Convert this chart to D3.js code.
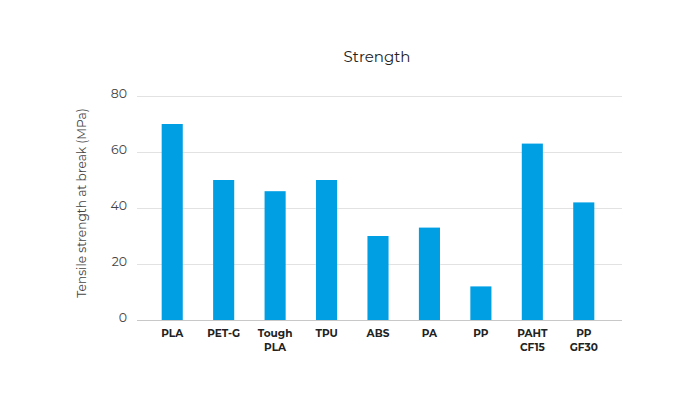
<!DOCTYPE html>
<html>
<head>
<meta charset="utf-8">
<script src="https://cdn.jsdelivr.net/npm/d3@7"></script>
<style>
  body { margin: 0; background: #fff; }
  svg { font-family: "Montserrat", "Inter", "Noto Sans", sans-serif; }
</style>
</head>
<body>
<svg id="chart" width="700" height="400"></svg>
<script>
// materials and tensile strength (MPa)
var materials = [["PLA"], ["PET-G"], ["Tough", "PLA"], ["TPU"], ["ABS"], ["PA"], ["PP"], ["PAHT", "CF15"], ["PP", "GF30"]];
var strength = [70, 50, 46, 50, 30, 33, 12, 63, 42];
var yTicks = [0, 20, 40, 60, 80];

var svg = d3.select("#chart");
var plotLeft = 137, plotRight = 622, plotTop = 96, plotBottom = 320;

var x = d3.scaleBand()
  .domain(d3.range(materials.length))
  .range([146.5, 609.5])
  .paddingInner(0.59)
  .paddingOuter(0.295);

var y = d3.scaleLinear().domain([0, 80]).range([plotBottom, plotTop]);

// gridlines
svg.append("g").selectAll("line")
  .data(yTicks)
  .enter().append("line")
    .attr("x1", plotLeft).attr("x2", plotRight)
    .attr("y1", function(d){ return y(d) + 0.5; })
    .attr("y2", function(d){ return y(d) + 0.5; })
    .attr("stroke", function(d){ return d === 0 ? "#c8c8c8" : "#e2e2e2"; })
    .attr("stroke-width", 1);

// y tick labels
svg.append("g").selectAll("text")
  .data(yTicks)
  .enter().append("text")
    .attr("x", 127)
    .attr("y", function(d){ return y(d) + 0.5; })
    .attr("dy", "0.1em")
    .attr("text-anchor", "end")
    .attr("font-size", "12.5px")
    .attr("fill", "#444")
    .text(function(d){ return d; });

// bars
svg.append("g").selectAll("rect")
  .data(strength)
  .enter().append("rect")
    .attr("x", function(d, i){ return x(i); })
    .attr("width", x.bandwidth())
    .attr("y", function(d){ return y(d); })
    .attr("height", function(d){ return plotBottom - y(d); })
    .attr("fill", "#009fe3");

// x labels
var xl = svg.append("g").selectAll("text")
  .data(materials)
  .enter().append("text")
    .attr("x", function(d, i){ return x(i) + x.bandwidth() / 2; })
    .attr("y", 337)
    .attr("text-anchor", "middle")
    .attr("font-size", "10.5px")
    .attr("font-weight", "bold")
    .attr("fill", "#222");

xl.selectAll("tspan")
  .data(function(d){ return d; })
  .enter().append("tspan")
    .attr("x", function(){ return this.parentNode.getAttribute("x"); })
    .attr("dy", function(d, i){ return i === 0 ? 0 : 13.5; })
    .text(function(d){ return d; });

// title
svg.append("text")
  .attr("x", 377).attr("y", 61.5)
  .attr("text-anchor", "middle")
  .attr("font-size", "15px")
  .attr("fill", "#222")
  .text("Strength");

// y axis title
svg.append("text")
  .attr("transform", "translate(86,203) rotate(-90)")
  .attr("text-anchor", "middle")
  .attr("font-size", "12.2px")
  .attr("fill", "#444")
  .text("Tensile strength at break (MPa)");
</script>
</body>
</html>
